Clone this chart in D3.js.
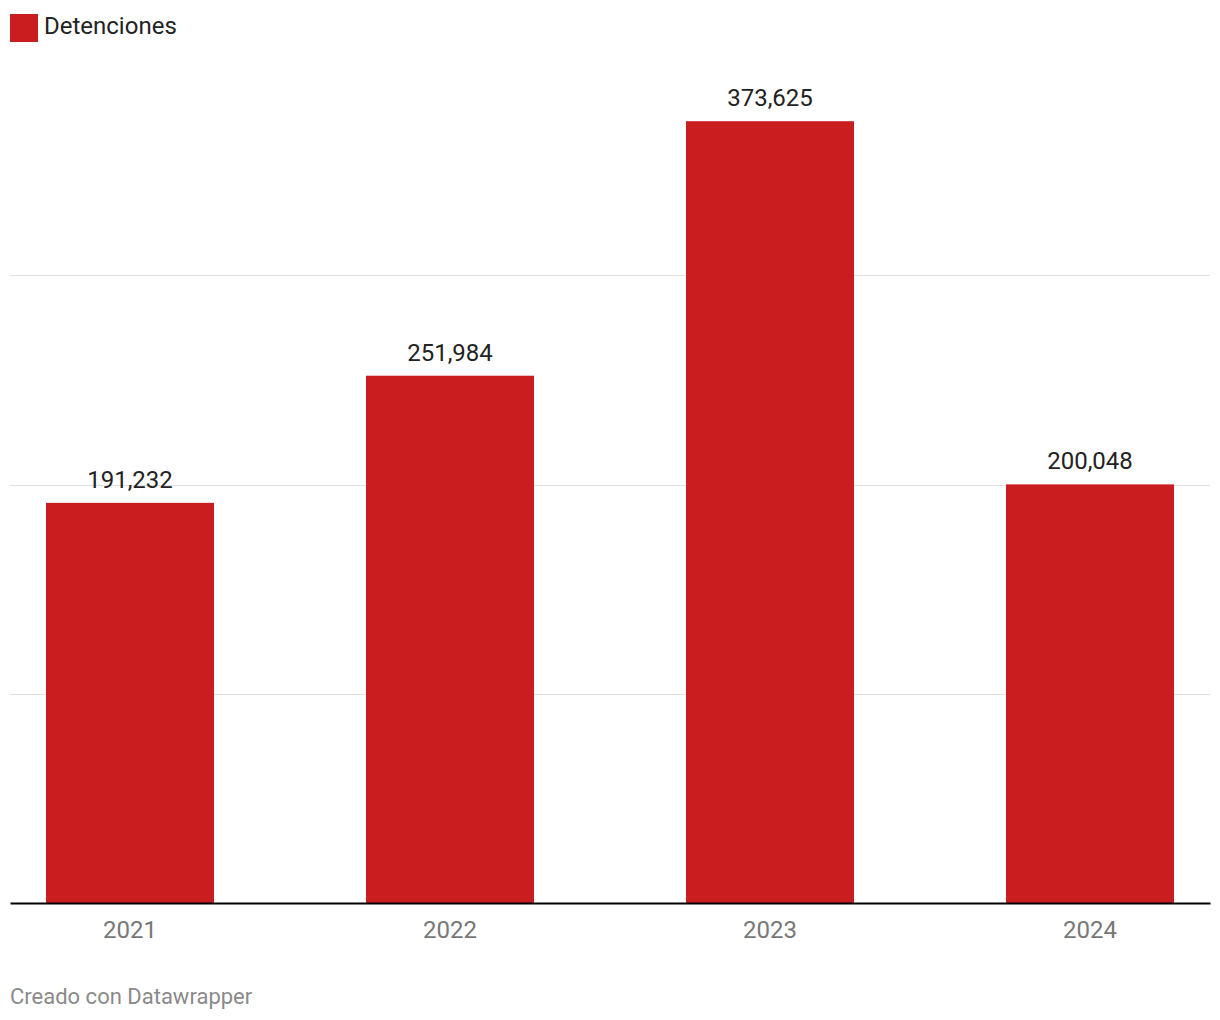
<!DOCTYPE html>
<html>
<head>
<meta charset="utf-8">
<script src="https://cdn.jsdelivr.net/npm/d3@7"></script>
<style>
  html, body { margin: 0; padding: 0; background: #fff; }
  svg { display: block; font-family: Roboto, "Noto Sans", sans-serif; }
</style>
</head>
<body>
<svg id="chart" width="1220" height="1020"></svg>
<script>
const years = ["2021", "2022", "2023", "2024"];
const detenciones = [191232, 251984, 373625, 200048];
const gridTicks = [100000, 200000, 300000];
const seriesName = "Detenciones";
const footerText = "Creado con Datawrapper";

const svg = d3.select("#chart");
const left = 10, right = 1210, baseline = 903;
const red = "#c91d1f";

const x = d3.scaleBand().domain(years).range([left, right]).paddingInner(0.475).paddingOuter(0.1125);
const y = d3.scaleLinear().domain([0, 400000]).range([baseline, 66]);

// gridlines
svg.append("g").selectAll("line").data(gridTicks).join("line")
  .attr("x1", left).attr("x2", right)
  .attr("y1", d => Math.round(y(d)) + 0.5).attr("y2", d => Math.round(y(d)) + 0.5)
  .attr("stroke", "#e0e0e0").attr("stroke-width", 1);

// bars
svg.append("g").selectAll("rect").data(years).join("rect")
  .attr("x", d => x(d))
  .attr("width", x.bandwidth())
  .attr("y", (d, i) => y(detenciones[i]))
  .attr("height", (d, i) => baseline - y(detenciones[i]))
  .attr("fill", red);

// value labels
const fmt = d3.format(",");
svg.append("g").selectAll("text").data(years).join("text")
  .attr("x", d => x(d) + x.bandwidth() / 2)
  .attr("y", (d, i) => y(detenciones[i]) - 15)
  .attr("text-anchor", "middle")
  .attr("font-size", 24)
  .attr("fill", "#222")
  .text((d, i) => fmt(detenciones[i]));

// baseline axis
const xAxis = svg.append("g").attr("transform", `translate(0,${baseline})`)
  .call(d3.axisBottom(x).tickSize(0).tickPadding(0));
xAxis.select(".domain").attr("stroke", "#000").attr("stroke-width", 2);
xAxis.selectAll("text")
  .attr("dy", null).attr("y", 35)
  .attr("font-family", "Roboto, 'Noto Sans', sans-serif")
  .attr("font-size", 24).attr("fill", "#777");

// legend
svg.append("rect").attr("x", 10).attr("y", 14).attr("width", 28).attr("height", 28).attr("fill", red);
svg.append("text").attr("x", 44).attr("y", 34).attr("font-size", 24).attr("fill", "#222").text(seriesName);

// footer
svg.append("text").attr("x", 10).attr("y", 1004).attr("font-size", 22).attr("fill", "#8a8a8a").text(footerText);
</script>
</body>
</html>
